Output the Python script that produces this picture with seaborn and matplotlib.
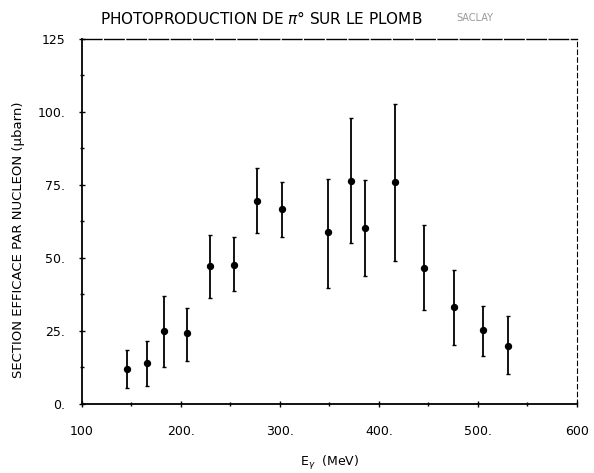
import matplotlib
matplotlib.use("Agg")
import matplotlib.pyplot as plt
import seaborn as sns
import numpy as np
import pandas as pd

# Data
energy = [146, 166, 183, 206, 229, 254, 277, 302, 349, 372, 386, 416, 446, 476, 505, 531]
sigma = [11.9, 13.9, 25.0, 24.2, 47.3, 47.6, 69.6, 66.8, 58.7, 76.4, 60.2, 76.1, 46.5, 33.1, 25.3, 20.0]
err_low = [5.4, 6.3, 12.8, 14.8, 36.2, 38.5, 58.4, 57.0, 39.8, 55.0, 43.8, 49.0, 32.2, 20.2, 16.4, 10.2]
err_high = [18.5, 21.7, 36.8, 33.0, 57.9, 57.0, 80.7, 76.1, 77.1, 97.8, 76.7, 102.6, 61.1, 45.9, 33.6, 30.1]
xticks = [100, 200, 300, 400, 500, 600]
xticklabels = ["100", "200.", "300.", "400.", "500.", "600"]
yticks = [0, 25, 50, 75, 100, 125]
yticklabels = ["0.", "25.", "50.", "75.", "100.", "125"]

df = pd.DataFrame({"E": energy, "sigma": sigma, "lo": err_low, "hi": err_high})

sns.set_style("white")
plt.rcParams["font.family"] = ["DejaVu Sans"]
plt.rcParams["text.color"] = "black"
plt.rcParams["axes.labelcolor"] = "black"

fig = plt.figure(figsize=(5.94, 4.73), dpi=100)
ax = fig.add_axes([0.138, 0.146, 0.833, 0.772])

yerr = np.vstack([df["sigma"] - df["lo"], df["hi"] - df["sigma"]])
ax.errorbar(df["E"], df["sigma"], yerr=yerr, fmt="none", ecolor="black",
            elinewidth=1.3, capsize=1.5, capthick=1.0)
sns.scatterplot(data=df, x="E", y="sigma", ax=ax, color="black", s=28,
                edgecolor="black", linewidth=0, zorder=3)

ax.set_xlim(100, 600)
ax.set_ylim(0, 125)
ax.set_xticks(xticks)
ax.set_xticklabels(xticklabels, fontsize=9)
ax.set_yticks(yticks)
ax.set_yticklabels(yticklabels, fontsize=9)
ax.set_xticks(np.arange(150, 600, 50), minor=True)
ax.set_yticks(np.arange(12.5, 125, 12.5), minor=True)
ax.tick_params(axis="both", which="both", direction="inout", length=4, width=1,
               colors="black", labelcolor="black", pad=10)
ax.tick_params(axis="x", which="both", pad=13)
ax.tick_params(axis="both", which="minor", length=3)
ax.tick_params(axis="x", which="both", bottom=True, top=False)
ax.tick_params(axis="y", which="both", left=True, right=False)

for side in ["left", "bottom"]:
    ax.spines[side].set_color("black")
    ax.spines[side].set_linewidth(1.3)
ax.spines["top"].set_color("black")
ax.spines["top"].set_linewidth(1.0)
ax.spines["top"].set_linestyle((0, (14, 2)))
ax.spines["right"].set_color("black")
ax.spines["right"].set_linewidth(0.8)
ax.spines["right"].set_linestyle((0, (4, 3)))

ax.set_xlabel("E$_\\gamma$  (MeV)", fontsize=9, labelpad=12)
ax.set_ylabel("SECTION EFFICACE PAR NUCLEON (µbarn)", fontsize=9.5)
ax.yaxis.set_label_coords(-0.115, 0.45)

fig.text(0.44, 0.96, "PHOTOPRODUCTION DE $\\pi$° SUR LE PLOMB", ha="center",
         va="center", fontsize=11, color="black")
fig.text(0.80, 0.962, "SACLAY", ha="center", va="center", fontsize=7,
         color="#999999")

fig.savefig("out.png", dpi=100)
